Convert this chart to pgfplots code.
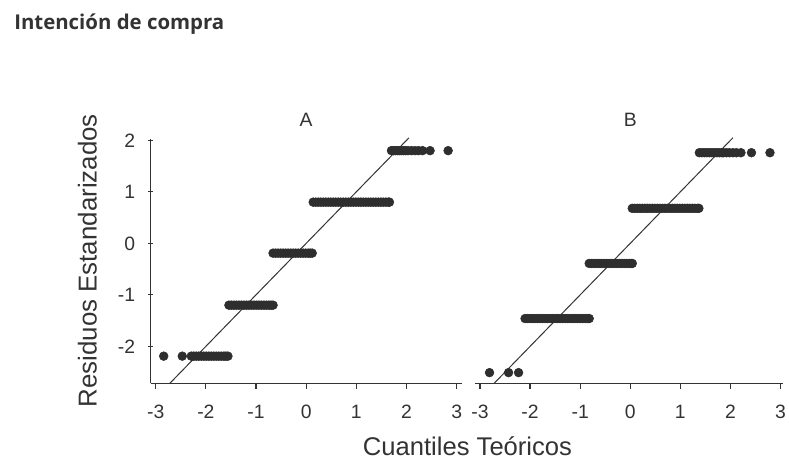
\documentclass[border=0pt]{standalone}
\usepackage{fontspec}
\setmainfont{Liberation Sans}
\newfontfamily\titlefont{Open Sans}
\usepackage{pgfplots}
\pgfplotsset{compat=1.18}
\definecolor{ink}{HTML}{333333}
\definecolor{dots}{HTML}{2E2E2E}

\pgfplotsset{
  qq/.style={
    scale only axis, height=183.4pt,
    ymin=-2.718, ymax=2.03,
    axis x line=bottom,
    tick align=outside, major tick length=4pt,
    tick style={draw=ink, line width=0.9pt},
    xtick={-3,-2,-1,0,1,2,3}, xticklabels={-3,-2,-1,0,1,2,3},
    tick label style={font=\fontsize{14.5}{16}\selectfont, text=ink},
    xticklabel style={anchor=north, inner sep=0pt, yshift=-12pt},
    clip=false,
  },
  pts/.style={only marks, mark=*, mark size=3.3pt, color=dots},
  ref/.style={no marks, draw=ink, line width=0.75pt},
}

\begin{document}
\begin{tikzpicture}
\useasboundingbox (0,0) rectangle (591.75pt,-345.75pt);

\node[anchor=base west, inner sep=0pt, text=ink,
  font=\titlefont\bfseries\fontsize{15.3}{18}\selectfont] at (10.5pt,-21.75pt) {Intención de compra};

% panel A
\begin{axis}[qq, at={(113pt,-287.5pt)}, anchor=south west,
  width=233.25pt, xmin=-3.1, xmax=3.1,
  axis y line=left,
  axis line style={-, draw=ink, line width=0.9pt},
  ytick={-2,-1,0,1,2}, yticklabels={-2,-1,0,1,2},
  yticklabel style={anchor=east, inner sep=0pt, xshift=-9.5pt}]
\addplot[ref] coordinates {(-2.72,-2.72) (2.05,2.05)};
\addplot[pts] coordinates {
(-2.84,-2.19) (-2.47,-2.19) (-2.29,-2.19) (-2.24,-2.19) (-2.19,-2.19) (-2.14,-2.19)
(-2.09,-2.19) (-2.04,-2.19) (-1.99,-2.19) (-1.94,-2.19) (-1.89,-2.19) (-1.84,-2.19)
(-1.79,-2.19) (-1.74,-2.19) (-1.69,-2.19) (-1.64,-2.19) (-1.60,-2.19) (-1.56,-2.19)
(-1.54,-1.20) (-1.49,-1.20) (-1.44,-1.20) (-1.39,-1.20) (-1.34,-1.20) (-1.29,-1.20)
(-1.24,-1.20) (-1.19,-1.20) (-1.14,-1.20) (-1.09,-1.20) (-1.04,-1.20) (-0.99,-1.20)
(-0.94,-1.20) (-0.89,-1.20) (-0.84,-1.20) (-0.79,-1.20) (-0.74,-1.20) (-0.70,-1.20)
(-0.66,-1.20)
(-0.66,-0.19) (-0.61,-0.19) (-0.56,-0.19) (-0.51,-0.19) (-0.46,-0.19) (-0.41,-0.19)
(-0.36,-0.19) (-0.31,-0.19) (-0.26,-0.19) (-0.21,-0.19) (-0.16,-0.19) (-0.11,-0.19)
(-0.06,-0.19) (-0.01,-0.19) (0.04,-0.19) (0.08,-0.19) (0.12,-0.19)
(0.14,0.80) (0.19,0.80) (0.24,0.80) (0.29,0.80) (0.34,0.80) (0.39,0.80) (0.44,0.80)
(0.49,0.80) (0.54,0.80) (0.59,0.80) (0.64,0.80) (0.69,0.80) (0.74,0.80) (0.79,0.80)
(0.84,0.80) (0.89,0.80) (0.94,0.80) (0.99,0.80) (1.04,0.80) (1.09,0.80) (1.14,0.80)
(1.19,0.80) (1.24,0.80) (1.29,0.80) (1.34,0.80) (1.39,0.80) (1.44,0.80) (1.49,0.80)
(1.54,0.80) (1.59,0.80) (1.64,0.80) (1.66,0.80)
(1.70,1.80) (1.74,1.80) (1.78,1.80) (1.82,1.80) (1.86,1.80) (1.90,1.80) (1.94,1.80)
(1.98,1.80) (2.03,1.80) (2.10,1.80) (2.17,1.80) (2.24,1.80) (2.32,1.80) (2.47,1.80)
(2.83,1.80)
};
\node[anchor=base, font=\fontsize{14.5}{16}\selectfont, text=ink] at (axis cs:0,2.26) {A};
\end{axis}

% panel B
\begin{axis}[qq, at={(356.25pt,-287.5pt)}, anchor=south west,
  width=231pt, xmin=-3.1, xmax=3.05,
  axis y line=none, ytick=\empty,
  axis line style={-, draw=ink, line width=0.9pt}]
\addplot[ref] coordinates {(-2.72,-2.72) (2.05,2.05)};
\addplot[pts] coordinates {
(-2.81,-2.51) (-2.43,-2.51) (-2.23,-2.51)
(-2.10,-1.46) (-2.05,-1.46) (-2.00,-1.46) (-1.95,-1.46) (-1.90,-1.46) (-1.85,-1.46)
(-1.80,-1.46) (-1.75,-1.46) (-1.70,-1.46) (-1.65,-1.46) (-1.60,-1.46) (-1.55,-1.46)
(-1.50,-1.46) (-1.45,-1.46) (-1.40,-1.46) (-1.35,-1.46) (-1.30,-1.46) (-1.25,-1.46)
(-1.20,-1.46) (-1.15,-1.46) (-1.10,-1.46) (-1.05,-1.46) (-1.00,-1.46) (-0.95,-1.46)
(-0.90,-1.46) (-0.85,-1.46) (-0.82,-1.46)
(-0.82,-0.39) (-0.77,-0.39) (-0.72,-0.39) (-0.67,-0.39) (-0.62,-0.39) (-0.57,-0.39)
(-0.52,-0.39) (-0.47,-0.39) (-0.42,-0.39) (-0.37,-0.39) (-0.32,-0.39) (-0.27,-0.39)
(-0.22,-0.39) (-0.17,-0.39) (-0.12,-0.39) (-0.07,-0.39) (-0.02,-0.39) (0.02,-0.39)
(0.04,-0.39)
(0.04,0.68) (0.09,0.68) (0.14,0.68) (0.19,0.68) (0.24,0.68) (0.29,0.68) (0.34,0.68)
(0.39,0.68) (0.44,0.68) (0.49,0.68) (0.54,0.68) (0.59,0.68) (0.64,0.68) (0.69,0.68)
(0.74,0.68) (0.79,0.68) (0.84,0.68) (0.89,0.68) (0.94,0.68) (0.99,0.68) (1.04,0.68)
(1.09,0.68) (1.14,0.68) (1.19,0.68) (1.24,0.68) (1.29,0.68) (1.34,0.68) (1.37,0.68)
(1.38,1.76) (1.43,1.76) (1.48,1.76) (1.53,1.76) (1.58,1.76) (1.63,1.76) (1.68,1.76)
(1.73,1.76) (1.78,1.76) (1.83,1.76) (1.86,1.76) (1.92,1.76) (1.98,1.76) (2.05,1.76)
(2.12,1.76) (2.21,1.76) (2.42,1.76) (2.79,1.76)
};
\node[anchor=base, font=\fontsize{14.5}{16}\selectfont, text=ink] at (axis cs:0,2.26) {B};
\end{axis}

\node[rotate=90, anchor=base, font=\fontsize{19.4}{21}\selectfont, text=ink] at (72.5pt,-195.6pt) {Residuos Estandarizados};
\node[anchor=base, font=\fontsize{19.2}{21}\selectfont, text=ink] at (350.6pt,-341.25pt) {Cuantiles Teóricos};
\end{tikzpicture}
\end{document}
